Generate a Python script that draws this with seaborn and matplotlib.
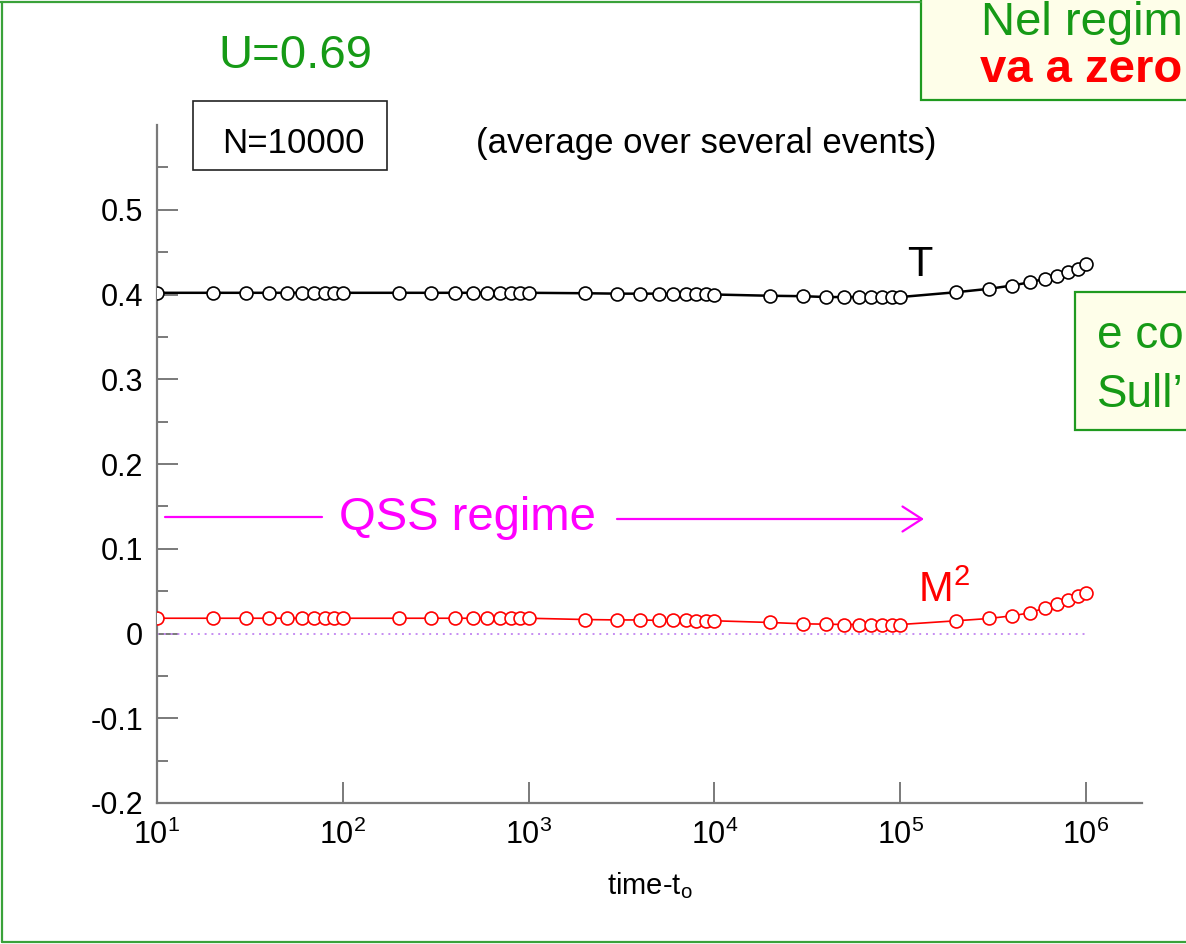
import matplotlib
matplotlib.use("Agg")
import matplotlib.pyplot as plt
import seaborn as sns
import pandas as pd
from matplotlib.patches import Rectangle
from matplotlib.lines import Line2D
from matplotlib import ticker

# ---------------- data ----------------
time = [10, 20, 30, 40, 50, 60, 70, 80, 90,
        100, 200, 300, 400, 500, 600, 700, 800, 900,
        1000, 2000, 3000, 4000, 5000, 6000, 7000, 8000, 9000,
        10000, 20000, 30000, 40000, 50000, 60000, 70000, 80000, 90000,
        100000, 200000, 300000, 400000, 500000, 600000, 700000, 800000, 900000,
        1000000]

T_vals = [0.402, 0.402, 0.402, 0.402, 0.402, 0.402, 0.402, 0.402, 0.402,
          0.402, 0.402, 0.402, 0.402, 0.402, 0.402, 0.402, 0.402, 0.402,
          0.402, 0.4015, 0.401, 0.401, 0.401, 0.4005, 0.4005, 0.4005, 0.4005,
          0.400, 0.3985, 0.398, 0.397, 0.397, 0.397, 0.397, 0.397, 0.397,
          0.397, 0.4027, 0.4067, 0.4106, 0.4145, 0.4185, 0.4224, 0.4263, 0.430,
          0.4354]

M2_vals = [0.018, 0.018, 0.018, 0.018, 0.018, 0.018, 0.018, 0.018, 0.018,
           0.018, 0.018, 0.018, 0.018, 0.018, 0.018, 0.018, 0.018, 0.018,
           0.018, 0.0165, 0.016, 0.016, 0.0155, 0.0155, 0.0155, 0.015, 0.015,
           0.015, 0.013, 0.0114, 0.011, 0.0106, 0.0106, 0.0106, 0.0106, 0.0106,
           0.0106, 0.015, 0.0177, 0.0209, 0.0244, 0.0303, 0.035, 0.0393, 0.0437,
           0.048]

x_ticks = [1e1, 1e2, 1e3, 1e4, 1e5, 1e6]
y_ticks = [-0.2, -0.1, 0.0, 0.1, 0.2, 0.3, 0.4, 0.5]
y_labels = ["-0.2", "-0.1", "0", "0.1", "0.2", "0.3", "0.4", "0.5"]
y_minor = [-0.15, -0.05, 0.05, 0.15, 0.25, 0.35, 0.45, 0.55]

# ---------------- style ----------------
sns.set_theme(style="white")
plt.rcParams["font.family"] = ["Liberation Sans", "DejaVu Sans"]
plt.rcParams["mathtext.fontset"] = "custom"
plt.rcParams["mathtext.rm"] = "Liberation Sans"
plt.rcParams["mathtext.it"] = "Liberation Sans:italic"
plt.rcParams["mathtext.bf"] = "Liberation Sans:bold"

W, H = 1186, 944


def P(x, y):
    return (x / W, 1 - y / H)


GREEN = "#169a16"
FRAME = "#3aa23a"
MAGENTA = "#ff00ff"
AXGRAY = "#7a7a7a"

fig = plt.figure(figsize=(W / 100, H / 100), dpi=100)
fig.patch.set_facecolor("white")
ax = fig.add_axes([157 / W, 1 - 803 / H, (1142 - 157) / W, (803 - 125) / H])
ax.set_facecolor("white")

df = pd.DataFrame({"time": time, "T": T_vals, "M2": M2_vals})

ax.hlines(0, time[0], time[-1], colors="#c68cf2", linestyles=(0, (1, 2.5)),
          lw=1.4, zorder=1)
sns.lineplot(data=df, x="time", y="T", ax=ax, color="black", lw=1.8,
             marker="o", markersize=9.3, markerfacecolor="white",
             markeredgecolor="black", markeredgewidth=1.2, zorder=3)
sns.lineplot(data=df, x="time", y="M2", ax=ax, color="red", lw=1.2,
             marker="o", markersize=9.3, markerfacecolor="white",
             markeredgecolor="red", markeredgewidth=1.2, zorder=3)

ax.set_xscale("log")
ax.set_xlim(10, 2e6)
ax.set_ylim(-0.2, 0.6)
ax.xaxis.set_major_locator(ticker.FixedLocator(x_ticks))
ax.xaxis.set_major_formatter(ticker.LogFormatterSciNotation())
ax.xaxis.set_minor_locator(ticker.NullLocator())
ax.set_yticks(y_ticks, labels=y_labels)
ax.yaxis.set_minor_locator(ticker.FixedLocator(y_minor))

ax.tick_params(axis="both", which="both", bottom=True, left=True,
               top=False, right=False)
ax.tick_params(axis="both", which="major", direction="in", length=15,
               width=1.4, color=AXGRAY, labelsize=22, labelcolor="black")
ax.tick_params(axis="both", which="minor", direction="in", length=8,
               width=1.4, color=AXGRAY)
ax.tick_params(axis="x", which="major", pad=12)
ax.tick_params(axis="y", which="major", pad=10)
for s in ["top", "right"]:
    ax.spines[s].set_visible(False)
for s in ["left", "bottom"]:
    ax.spines[s].set_color(AXGRAY)
    ax.spines[s].set_linewidth(1.6)

ax.set_xlabel("time-t$_\\mathregular{o}$", fontsize=21, labelpad=14,
              color="black")
ax.set_ylabel("")

# ---------------- outer slide frame ----------------
fig.add_artist(Line2D([0, 921 / W], [1 - 2 / H] * 2, transform=fig.transFigure,
                      color=FRAME, lw=1.6))
fig.add_artist(Line2D([2 / W] * 2, [1 - 2 / H, 1 - 942 / H],
                      transform=fig.transFigure, color=FRAME, lw=1.6))
fig.add_artist(Line2D([2 / W, 1], [1 - 942 / H] * 2, transform=fig.transFigure,
                      color=FRAME, lw=1.6))

# yellow note boxes (cut by the slide edge)
fig.add_artist(Rectangle(P(921, 100), (W - 921 + 20) / W, 120 / H,
                         transform=fig.transFigure, facecolor="#fefee9",
                         edgecolor="#1f9a1f", lw=1.6))
fig.add_artist(Rectangle(P(1075, 430), (W - 1075 + 20) / W, (430 - 292) / H,
                         transform=fig.transFigure, facecolor="#fefee9",
                         edgecolor="#1f9a1f", lw=1.6))
fig.text(*P(981, 35), "Nel regim", color=GREEN, fontsize=34,
         ha="left", va="baseline")
fig.text(*P(980, 82), "va a zero", color="red", fontsize=34,
         fontweight="bold", ha="left", va="baseline")
fig.text(*P(1097, 348), "e co", color=GREEN, fontsize=33,
         ha="left", va="baseline")
fig.text(*P(1097, 407), "Sull\u2019", color=GREEN, fontsize=33,
         ha="left", va="baseline")

# ---------------- annotations ----------------
fig.text(*P(295, 68), "U=0.69", color=GREEN, fontsize=34,
         ha="center", va="baseline")
fig.add_artist(Rectangle(P(193, 170), 194 / W, 69 / H,
                         transform=fig.transFigure, facecolor="none",
                         edgecolor="#222222", lw=1.2))
fig.text(*P(293, 153), "N=10000", color="black", fontsize=25,
         ha="center", va="baseline")
fig.text(*P(706, 153), "(average over several events)", color="black",
         fontsize=25, ha="center", va="baseline")

fig.text(*P(920, 276), "T", color="black", fontsize=30,
         ha="center", va="baseline")
fig.text(*P(944, 602), "M$^\\mathregular{2}$", color="red", fontsize=30,
         ha="center", va="baseline")

ax.annotate("", xy=P(322, 517), xytext=P(165, 517), xycoords="figure fraction",
            textcoords="figure fraction",
            arrowprops=dict(arrowstyle="-", color=MAGENTA, lw=1.6,
                            shrinkA=0, shrinkB=0))
ax.annotate("", xy=P(924, 519), xytext=P(617, 519), xycoords="figure fraction",
            textcoords="figure fraction",
            arrowprops=dict(arrowstyle="->,head_length=0.7,head_width=0.45",
                            color=MAGENTA, lw=1.6, shrinkA=0, shrinkB=0,
                            mutation_scale=20))
fig.text(*P(467, 530), "QSS regime", color=MAGENTA, fontsize=34,
         ha="center", va="baseline")

fig.savefig("out.png", dpi=100)
